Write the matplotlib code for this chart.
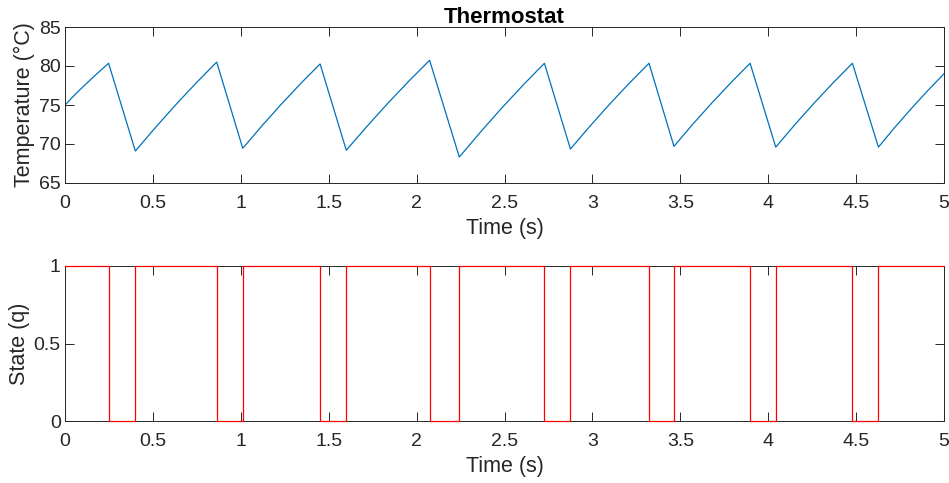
import matplotlib
matplotlib.use("Agg")
import matplotlib.pyplot as plt
from matplotlib.ticker import FixedLocator, FixedFormatter

# Temperature trace (peaks, troughs and points along each rise)
temp_time = [0.0, 0.062, 0.124, 0.186, 0.248,
             0.400, 0.516, 0.6315, 0.747, 0.863,
             1.011, 1.121, 1.231, 1.341, 1.451,
             1.600, 1.7185, 1.837, 1.9555, 2.074,
             2.243, 2.364, 2.485, 2.606, 2.727,
             2.875, 2.987, 3.0985, 3.210, 3.322,
             3.464, 3.572, 3.6805, 3.789, 3.897,
             4.043, 4.152, 4.261, 4.370, 4.479,
             4.627, 4.720, 4.8135, 4.907, 5.0]
temp_vals = [75.0, 76.45, 77.8, 79.1, 80.35,
             69.1, 72.15, 75.07, 77.85, 80.5,
             69.45, 72.35, 75.12, 77.76, 80.26,
             69.2, 72.28, 75.24, 78.05, 80.73,
             68.33, 71.55, 74.63, 77.56, 80.35,
             69.36, 72.31, 75.12, 77.8, 80.35,
             69.7, 72.56, 75.29, 77.89, 80.35,
             69.6, 72.49, 75.24, 77.86, 80.35,
             69.6, 72.13, 74.53, 76.83, 79.0]

# Switching state (q)
state_time = [0.0, 0.248, 0.400, 0.863, 1.011, 1.451, 1.600, 2.074, 2.243,
              2.727, 2.875, 3.322, 3.464, 3.897, 4.043, 4.479, 4.627, 5.0]
state_vals = [1, 0, 1, 0, 1, 0, 1, 0, 1, 0, 1, 0, 1, 0, 1, 0, 1, 1]

x_ticks = [0, 0.5, 1, 1.5, 2, 2.5, 3, 3.5, 4, 4.5, 5]
x_labels = ["0", "0.5", "1", "1.5", "2", "2.5", "3", "3.5", "4", "4.5", "5"]
temp_ticks = [65, 70, 75, 80, 85]
state_ticks = [0, 0.5, 1]
state_labels = ["0", "0.5", "1"]

plt.rcParams['font.family'] = ['Liberation Sans', 'DejaVu Sans']
axcol = (0.15, 0.15, 0.15)
tick_fs = 14
label_fs = 15.5
title_fs = 16

fig = plt.figure(figsize=(9.49, 4.83), dpi=100)
W, H = 949, 483
ax1 = fig.add_axes([65 / W, 1 - 183 / H, (944 - 65) / W, (183 - 27) / H])
ax2 = fig.add_axes([65 / W, 1 - 421 / H, (944 - 65) / W, (421 - 266) / H])


def style(ax):
    for s in ax.spines.values():
        s.set_color(axcol)
        s.set_linewidth(0.7)
    ax.tick_params(direction='in', top=True, right=True, length=6.5,
                   width=0.7, colors=axcol, labelsize=tick_fs)
    ax.tick_params(axis='x', pad=9)
    ax.tick_params(axis='y', pad=3)
    ax.set_xlim(0, 5)
    ax.xaxis.set_major_locator(FixedLocator(x_ticks))
    ax.xaxis.set_major_formatter(FixedFormatter(x_labels))
    ax.set_xlabel("Time (s)", fontsize=label_fs, color=axcol, labelpad=4)


ax1.plot(temp_time, temp_vals, color='#0072BD', lw=0.9)
style(ax1)
ax1.set_ylim(65, 85)
ax1.set_yticks(temp_ticks)
ax1.set_ylabel("Temperature (°C)", fontsize=label_fs, color=axcol, labelpad=3)
ax1.set_title("Thermostat", fontsize=title_fs, fontweight='bold', pad=3)

ax2.plot(state_time, state_vals, color='red', lw=0.9, drawstyle='steps-post',
         clip_on=False, zorder=3)
style(ax2)
ax2.set_ylim(0, 1)
ax2.yaxis.set_major_locator(FixedLocator(state_ticks))
ax2.yaxis.set_major_formatter(FixedFormatter(state_labels))
ax2.set_ylabel("State (q)", fontsize=label_fs, color=axcol, labelpad=3)

fig.savefig("out.png", dpi=100)
